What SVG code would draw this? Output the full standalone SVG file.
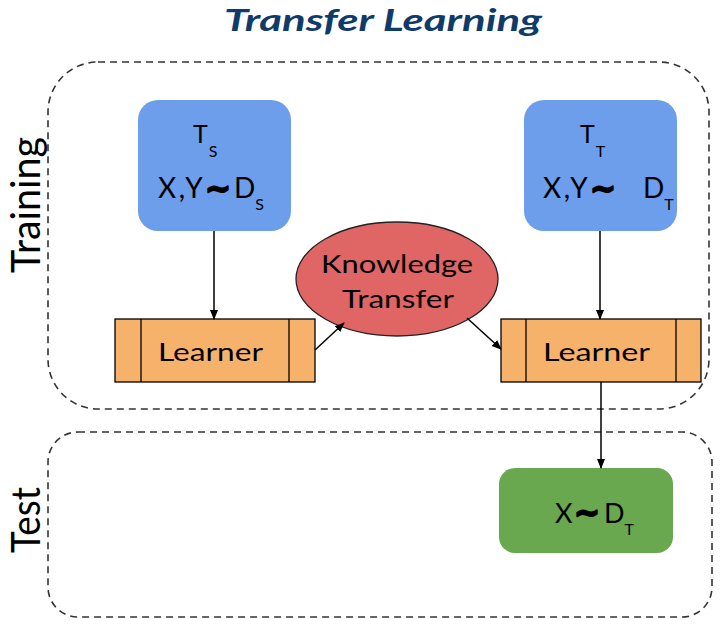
<svg xmlns="http://www.w3.org/2000/svg" width="722" height="624" viewBox="0 0 722 624">
<defs>
<style>
text{font-family:Lato,"Liberation Sans",sans-serif;fill:#000}
.region{fill:none;stroke:#333;stroke-width:1.6;stroke-dasharray:7 5}
.blue{fill:#6D9EEB}
.lrn{fill:#F6B26B;stroke:#000;stroke-width:1.3}
.div{stroke:#000;stroke-width:1.3}
.conn{stroke:#000;stroke-width:1.5;fill:none;marker-end:url(#ah)}
.lbl{font-size:25px}
.main{font-size:28px}
.big{font-size:25px}
.sub{font-size:16px;letter-spacing:0}
.xy{letter-spacing:2.5px}
.til{font-family:"DejaVu Sans",sans-serif;font-weight:bold;font-size:31px;letter-spacing:0;stroke:#000;stroke-width:2;stroke-linejoin:round}
.side{font-size:34px}
</style>
<marker id="ah" markerWidth="10" markerHeight="10" refX="9" refY="5" orient="auto" markerUnits="userSpaceOnUse">
<path d="M0,1 L10,5 L0,9 Z" fill="#000"/>
</marker>
</defs>
<rect width="722" height="624" fill="#fff"/>
<text x="383" y="31" text-anchor="middle" style="font-size:31px;font-weight:bold;font-style:italic;fill:#0F3B6B" textLength="318" lengthAdjust="spacingAndGlyphs">Transfer Learning</text>
<g id="training-region">
<rect class="region" x="48" y="62" width="661" height="347" rx="50" ry="50"/>
<text class="side" transform="translate(40,273) rotate(-90) scale(1,1.2)" textLength="136" lengthAdjust="spacingAndGlyphs">Training</text>
</g>
<g id="test-region">
<rect class="region" x="48" y="432" width="664" height="185" rx="30" ry="30"/>
<text class="side" transform="translate(40,553) rotate(-90) scale(1,1.2)" textLength="66" lengthAdjust="spacingAndGlyphs">Test</text>
</g>
<g id="source-task">
<rect class="blue" x="138" y="100" width="153" height="131" rx="20" ry="20"/>
<text class="big" x="193" y="143">T<tspan class="sub" dx="1" dy="14">S</tspan></text>
<text class="main" y="198"><tspan class="xy" x="158">X,Y</tspan><tspan class="til" x="205" dy="1">~</tspan><tspan x="234" dy="-1">D</tspan><tspan class="sub" dy="12">S</tspan></text>
</g>
<g id="target-task">
<rect class="blue" x="524" y="100" width="153" height="131" rx="20" ry="20"/>
<text class="big" x="580" y="143">T<tspan class="sub" dx="1" dy="14">T</tspan></text>
<text class="main" y="198"><tspan class="xy" x="543">X,Y</tspan><tspan class="til" x="590" dy="1">~</tspan><tspan x="643" dy="-1">D</tspan><tspan class="sub" dy="12">T</tspan></text>
</g>
<g id="source-learner">
<rect class="lrn" x="115" y="319" width="200" height="63"/>
<line class="div" x1="141" y1="319" x2="141" y2="382"/>
<line class="div" x1="289" y1="319" x2="289" y2="382"/>
<text class="lbl" x="158" y="361" textLength="105" lengthAdjust="spacingAndGlyphs">Learner</text>
</g>
<g id="knowledge-transfer">
<ellipse cx="397" cy="279" rx="101" ry="57" fill="#E06666" stroke="#222" stroke-width="1.3"/>
<text class="lbl" x="321" y="273" textLength="152" lengthAdjust="spacingAndGlyphs">Knowledge</text>
<text class="lbl" x="342" y="308" textLength="112" lengthAdjust="spacingAndGlyphs">Transfer</text>
</g>
<g id="target-learner">
<rect class="lrn" x="501" y="319" width="200" height="63"/>
<line class="div" x1="526" y1="319" x2="526" y2="382"/>
<line class="div" x1="676" y1="319" x2="676" y2="382"/>
<text class="lbl" x="543" y="361" textLength="107" lengthAdjust="spacingAndGlyphs">Learner</text>
</g>
<g id="test-data">
<rect x="499" y="468" width="174" height="85" rx="16" ry="16" fill="#6AA84F"/>
<text class="main" y="523" style="font-size:27px"><tspan x="555">X</tspan><tspan class="til" x="574" dy="0">~</tspan><tspan x="604" dy="0">D</tspan><tspan class="sub" dy="12">T</tspan></text>
</g>
<g id="connectors">
<line class="conn" x1="214" y1="231" x2="214" y2="319"/>
<line class="conn" x1="315" y1="350" x2="344" y2="323"/>
<line class="conn" x1="467" y1="318" x2="501" y2="349"/>
<line class="conn" x1="600" y1="231" x2="600" y2="319"/>
<line class="conn" x1="601" y1="382" x2="601" y2="468"/>
</g>
</svg>
